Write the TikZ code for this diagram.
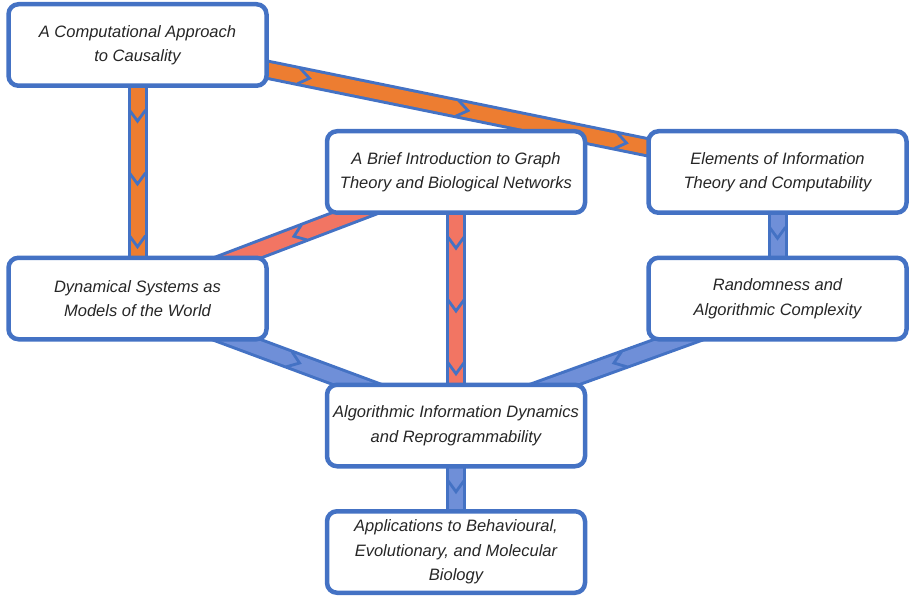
\documentclass[tikz,border=0pt]{standalone}
\usepackage{fontspec}
\setmainfont{Liberation Sans}
\usepackage{tikz}
\usetikzlibrary{calc,backgrounds,decorations.markings}
\definecolor{boxblue}{HTML}{4472C4}
\definecolor{causeorange}{HTML}{ED7D31}
\definecolor{graphred}{HTML}{F27563}
\definecolor{aidblue}{HTML}{6F8FD8}
\definecolor{textgray}{HTML}{262626}
\tikzset{
  topic/.style={draw=boxblue, line width=4.5pt, rounded corners=10pt, fill=white, text=textgray,
    minimum width=258pt, minimum height=81.5pt, inner sep=3pt, align=center,
    font=\itshape\fontsize{16.5}{24.5}\selectfont},
  band/.style={draw=boxblue, line width=3pt, double=#1, double distance=14pt,
    shorten <=-30pt, shorten >=-30pt},
  chev/.style={draw=boxblue, line width=2.8pt},
  chevrons/.style={postaction={decorate}, decoration={markings,
    mark=#1 with {\draw[chev] (-8pt,8pt) -- (3pt,0pt) -- (-8pt,-8pt);}}}
}
\begin{document}
\begin{tikzpicture}[x=1pt, y=-1pt]
\useasboundingbox (0,0) rectangle (910,596);
\node[topic] (cause) at (137.5,45) {A Computational Approach\\to Causality};
\node[topic] (graph) at (456,172) {A Brief Introduction to Graph\\Theory and Biological Networks};
\node[topic] (info) at (777.5,172) {Elements of Information\\Theory and Computability};
\node[topic] (dyn) at (137.5,298.5) {Dynamical Systems as\\Models of the World};
\node[topic] (rand) at (777.5,298.5) {Randomness and\\Algorithmic Complexity};
\node[topic] (aid) at (456,425.5) {Algorithmic Information Dynamics\\and Reprogrammability};
\node[topic] (app) at (456,552) {Applications to Behavioural,\\Evolutionary, and Molecular\\Biology};

\coordinate (cause-out) at ($(cause.east)+(0,25)$);
\coordinate (info-in) at ($(info.west)+(0,-25)$);
\coordinate (graph-out) at ($(graph.south)+(-106,0)$);
\coordinate (dyn-in) at ($(dyn.north)+(106,0)$);
\coordinate (dyn-out) at ($(dyn.south)+(104,0)$);
\coordinate (rand-out) at ($(rand.south)+(-104,0)$);
\coordinate (aid-left) at ($(aid.north)+(-104,0)$);
\coordinate (aid-right) at ($(aid.north)+(104,0)$);

\begin{pgfonlayer}{background}
\draw[band=causeorange] (cause.south) -- (dyn.north);
\path[chevrons={between positions 0.18 and 0.95 step 0.375}] (cause.south) -- (dyn.north);
\draw[band=causeorange] (cause-out) -- (info-in);
\path[chevrons={between positions 0.1 and 0.96 step 0.42}] (cause-out) -- (info-in);
\draw[band=graphred] (graph-out) -- (dyn-in);
\path[chevrons={at position 0.5}] (graph-out) -- (dyn-in);
\draw[band=graphred] (graph.south) -- (aid.north);
\path[chevrons={between positions 0.18 and 0.95 step 0.375}] (graph.south) -- (aid.north);
\draw[band=aidblue] (info.south) -- (rand.north);
\path[chevrons={at position 0.5}] (info.south) -- (rand.north);
\draw[band=aidblue] (dyn-out) -- (aid-left);
\path[chevrons={at position 0.5}] (dyn-out) -- (aid-left);
\draw[band=aidblue] (rand-out) -- (aid-right);
\path[chevrons={at position 0.5}] (rand-out) -- (aid-right);
\draw[band=aidblue] (aid.south) -- (app.north);
\path[chevrons={at position 0.5}] (aid.south) -- (app.north);
\end{pgfonlayer}
\end{tikzpicture}
\end{document}
